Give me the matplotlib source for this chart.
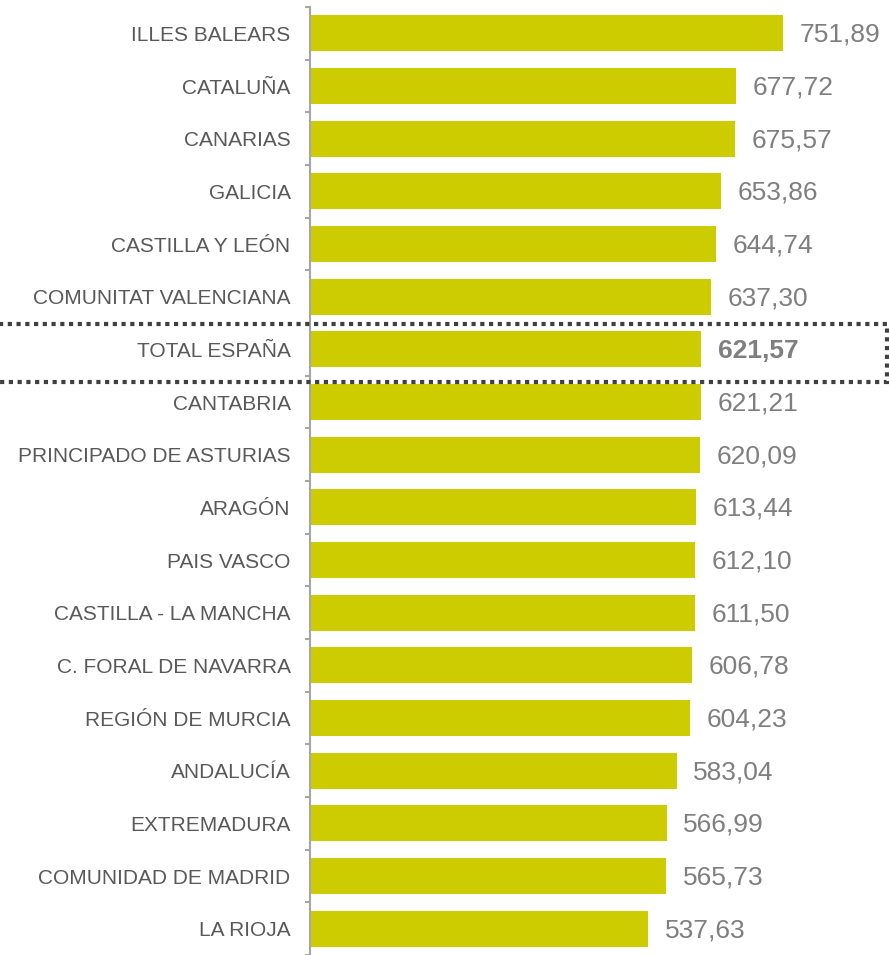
import matplotlib.pyplot as plt
import matplotlib.patches as patches
from matplotlib.transforms import blended_transform_factory

# Datos
regiones = [
    'ILLES BALEARS', 'CATALUÑA', 'CANARIAS', 'GALICIA', 'CASTILLA Y LEÓN',
    'COMUNITAT VALENCIANA', 'TOTAL ESPAÑA', 'CANTABRIA', 'PRINCIPADO DE ASTURIAS',
    'ARAGÓN', 'PAIS VASCO', 'CASTILLA - LA MANCHA', 'C. FORAL DE NAVARRA',
    'REGIÓN DE MURCIA', 'ANDALUCÍA', 'EXTREMADURA', 'COMUNIDAD DE MADRID', 'LA RIOJA',
]
valores = [751.89, 677.72, 675.57, 653.86, 644.74, 637.30, 621.57, 621.21, 620.09,
           613.44, 612.10, 611.50, 606.78, 604.23, 583.04, 566.99, 565.73, 537.63]
total_label = 'TOTAL ESPAÑA'

plt.rcParams['font.family'] = ['Liberation Sans', 'DejaVu Sans']

W, H = 889, 955
fig = plt.figure(figsize=(W / 100, H / 100), dpi=100)
ax_left = 310
ax_top = 7
ax = fig.add_axes([ax_left / W, 0, (W - ax_left) / W, (H - ax_top) / H])

n = len(regiones)
pos = list(range(n))
ax.barh(pos, valores, height=0.68, color='#CCCC00', zorder=2)
ax.set_xlim(0, (W - ax_left) / 0.629)
ax.set_ylim(n - 0.5, -0.5)

# Etiquetas de valor
for i, v in enumerate(valores):
    bold = regiones[i] == total_label
    ax.annotate(f'{v:.2f}'.replace('.', ','), xy=(v, i), xytext=(12, -1),
                textcoords='offset points', va='center', ha='left',
                fontsize=19, color='#7F7F7F',
                fontweight='bold' if bold else 'normal')

# Ejes
for s in ['top', 'right', 'bottom']:
    ax.spines[s].set_visible(False)
ax.spines['left'].set_color('#A6A6A6')
ax.spines['left'].set_linewidth(1.5)
ax.set_xticks([])
ax.set_yticks(pos)
ax.set_yticklabels(regiones, fontsize=15, color='#595959')
ax.tick_params(axis='y', which='major', length=0, pad=14)
ax.set_yticks([p - 0.5 for p in pos] + [n - 0.5], minor=True)
ax.tick_params(axis='y', which='minor', length=3.8, width=1.5, color='#A6A6A6')

# Recuadro punteado para el total
idx = regiones.index(total_label)
trans = blended_transform_factory(ax.transAxes, ax.transData)
rect = patches.Rectangle((-0.6, idx - 0.48), 0.6 + (887 - ax_left) / (W - ax_left), 1.1,
                         transform=trans, fill=False, edgecolor='#404040',
                         linewidth=3, linestyle=(0, (1, 1.1)), clip_on=False, zorder=3)
rect.set_capstyle('butt')
ax.add_patch(rect)

fig.savefig('out.png', dpi=100)
